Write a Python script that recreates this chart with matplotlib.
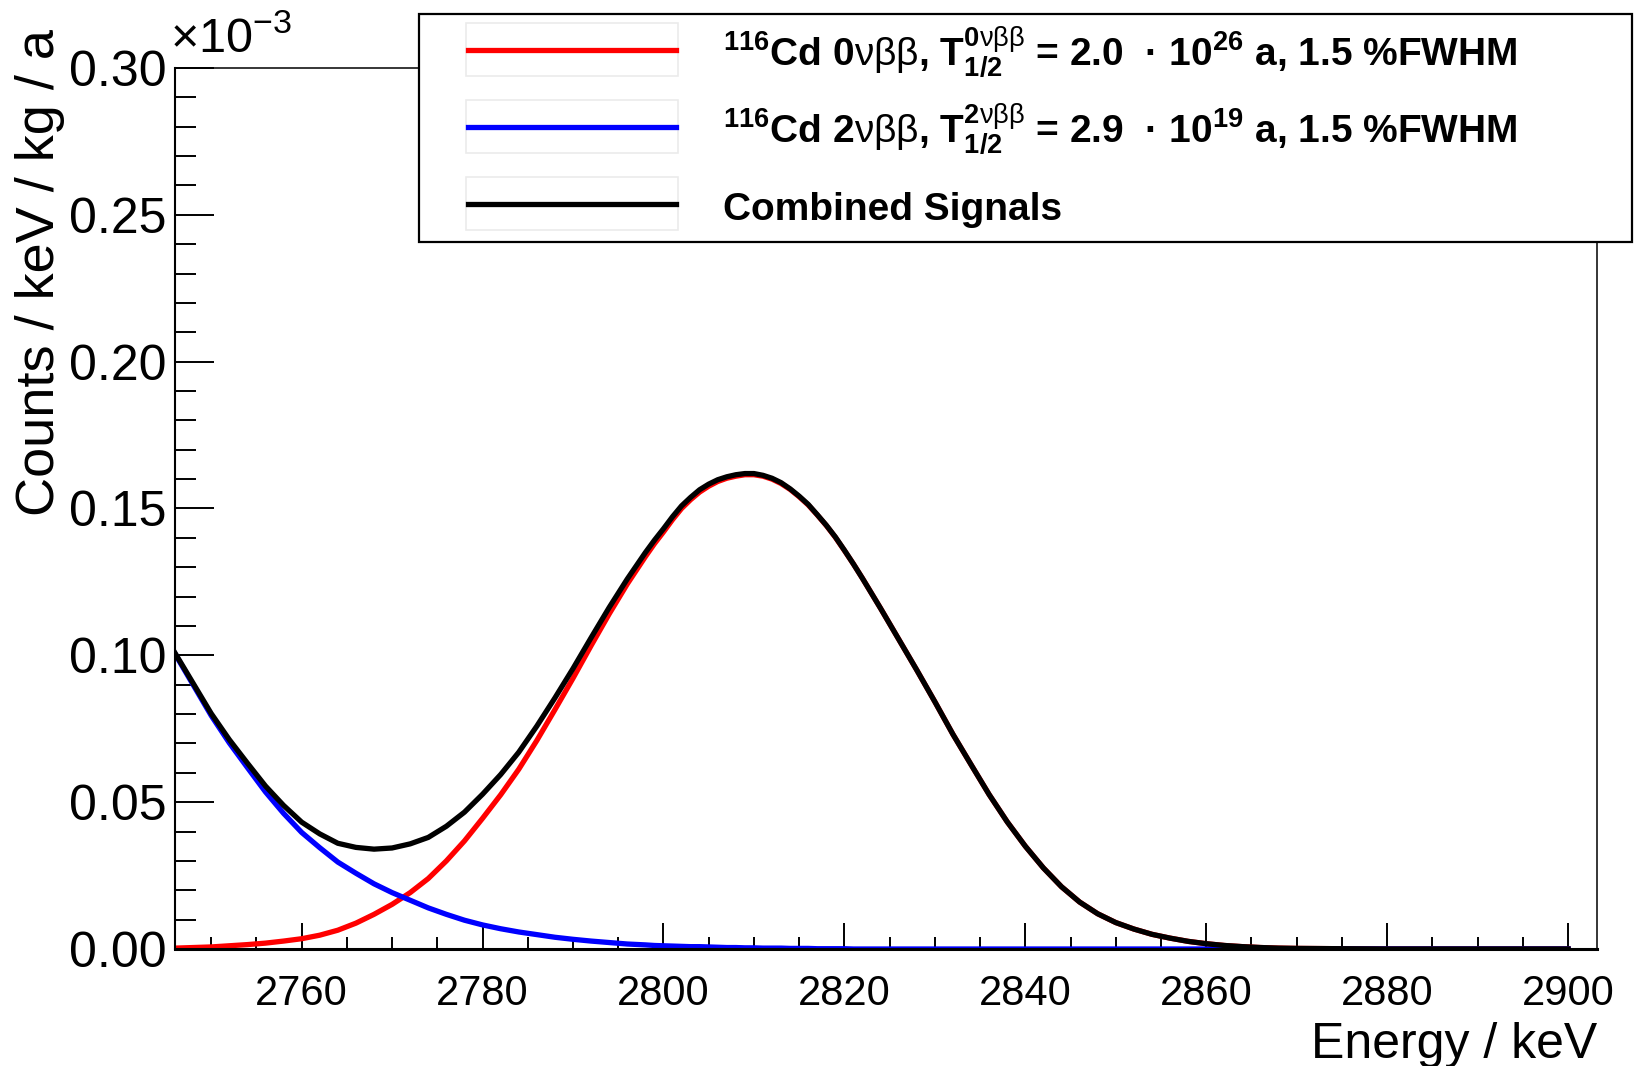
import matplotlib
matplotlib.use('Agg')
import matplotlib.pyplot as plt
from matplotlib.ticker import MultipleLocator, FormatStrFormatter
from matplotlib.patches import Rectangle
from matplotlib.lines import Line2D
import numpy as np

# energy grid (keV) and spectra in 10^-3 counts / keV / kg / a
energy = [2746, 2748, 2750, 2752, 2754, 2756, 2758, 2760, 2762, 2764,
          2766, 2768, 2770, 2772, 2774, 2776, 2778, 2780, 2782, 2784,
          2786, 2788, 2790, 2792, 2794, 2796, 2798, 2799, 2800, 2801,
          2802, 2803, 2804, 2805, 2806, 2807, 2808, 2809, 2810, 2811,
          2812, 2813, 2814, 2815, 2816, 2817, 2818, 2819, 2820, 2821,
          2822, 2824, 2826, 2828, 2830, 2832, 2834, 2836, 2838, 2840,
          2842, 2844, 2846, 2848, 2850, 2852, 2854, 2856, 2858, 2860,
          2862, 2864, 2866, 2868, 2870, 2875, 2880, 2885, 2890, 2895,
          2900]

# 0vbb peak
sig_0nbb = [0.0003, 0.0005, 0.0007, 0.0011, 0.0015, 0.0020, 0.0027, 0.0035, 0.0047, 0.0064,
            0.0088, 0.0118, 0.0152, 0.0192, 0.0240, 0.0300, 0.0368, 0.0445, 0.0525, 0.0612,
            0.0710, 0.0815, 0.0922, 0.1033, 0.1141, 0.1243, 0.1336, 0.1380, 0.1420, 0.1462,
            0.1500, 0.1530, 0.1556, 0.1576, 0.1592, 0.1603, 0.1610, 0.1615, 0.1615, 0.1610,
            0.1600, 0.1585, 0.1565, 0.1540, 0.1512, 0.1478, 0.1442, 0.1402, 0.1357, 0.1311,
            0.1262, 0.1160, 0.1055, 0.0950, 0.0842, 0.0731, 0.0628, 0.0526, 0.0433, 0.0350,
            0.0276, 0.0212, 0.0160, 0.0120, 0.0090, 0.0068, 0.0050, 0.0037, 0.0026, 0.0018,
            0.0012, 0.0008, 0.0005, 0.0003, 0.0002, 0.0001, 0.0, 0.0, 0.0, 0.0,
            0.0]

# 2vbb tail
sig_2nbb = [0.1005, 0.0900, 0.0795, 0.0702, 0.0618, 0.0535, 0.0462, 0.0397, 0.0345, 0.0296,
            0.0258, 0.0222, 0.0192, 0.0166, 0.0140, 0.0118, 0.0098, 0.0082, 0.0069, 0.0058,
            0.0049, 0.0040, 0.0033, 0.0027, 0.0022, 0.0017, 0.0014, 0.0012, 0.0011, 0.0010,
            0.0009, 0.0008, 0.0008, 0.0007, 0.0006, 0.0005, 0.0005, 0.0004, 0.0004, 0.0003,
            0.0003, 0.0003, 0.0002, 0.0002, 0.0002, 0.0001, 0.0001, 0.0001, 0.0001, 0.0,
            0.0, 0.0, 0.0, 0.0, 0.0, 0.0, 0.0, 0.0, 0.0, 0.0,
            0.0, 0.0, 0.0, 0.0, 0.0, 0.0, 0.0, 0.0, 0.0, 0.0,
            0.0, 0.0, 0.0, 0.0, 0.0, 0.0, 0.0, 0.0, 0.0, 0.0,
            0.0]

labels = ['$^{116}$Cd 0$\\mathrm{\u03bd\u03b2\u03b2}$, T$^{0\\mathrm{\u03bd\u03b2\u03b2}}_{1/2}$ = 2.0  \u00b7 10$^{26}$ a, 1.5 %FWHM',
          '$^{116}$Cd 2$\\mathrm{\u03bd\u03b2\u03b2}$, T$^{2\\mathrm{\u03bd\u03b2\u03b2}}_{1/2}$ = 2.9  \u00b7 10$^{19}$ a, 1.5 %FWHM',
          'Combined Signals']
colors = ['red', 'blue', 'black']

plt.rcParams['font.family'] = 'Liberation Sans'
plt.rcParams['mathtext.fontset'] = 'custom'
plt.rcParams['mathtext.rm'] = 'Liberation Sans'
plt.rcParams['mathtext.default'] = 'regular'

W, H = 1635, 1066
fig = plt.figure(figsize=(W / 100, H / 100), dpi=100)
ax = fig.add_axes([175 / W, 1 - 949 / H, (1597 - 175) / W, (949 - 68) / H])

combined = np.array(sig_0nbb) + np.array(sig_2nbb)
series = [sig_0nbb, sig_2nbb, combined]
for y, c in zip(series, colors):
    ax.plot(energy, y, color=c, lw=3.8, solid_joinstyle='round')

ax.set_xlim(2746, 2903.2)
ax.set_ylim(0, 0.30)
ax.xaxis.set_major_locator(MultipleLocator(20))
ax.xaxis.set_minor_locator(MultipleLocator(5))
ax.yaxis.set_major_locator(MultipleLocator(0.05))
ax.yaxis.set_minor_locator(MultipleLocator(0.01))
ax.yaxis.set_major_formatter(FormatStrFormatter('%.2f'))
ax.tick_params(which='both', direction='in', top=False, right=False, width=1.4)
ax.tick_params(axis='x', which='major', length=18.7, labelsize=30, pad=18)
ax.tick_params(axis='x', which='minor', length=8.6)
ax.tick_params(axis='y', which='major', length=27.8, labelsize=36, pad=6)
ax.tick_params(axis='y', which='minor', length=15)
ax.spines['bottom'].set_linewidth(2.2)
ax.spines['left'].set_linewidth(1.5)
ax.spines['top'].set_linewidth(1.1)
ax.spines['right'].set_linewidth(1.1)

fig.text(1597 / W, 1 - 1022 / H, 'Energy / keV', ha='right', va='top', fontsize=36)
fig.text(40 / W, 1 - 29 / H, 'Counts / keV / kg / a', rotation=90,
         ha='center', va='top', fontsize=39)
fig.text(170 / W, 1 - 52 / H, '\u00d710$^{-3}$', ha='left', va='baseline', fontsize=35)

# legend box, drawn over the frame
fig.add_artist(Rectangle((419 / W, 1 - 242 / H), 1213 / W, 228 / H,
                         transform=fig.transFigure, facecolor='white',
                         edgecolor='black', lw=1.6, zorder=5))
for i, (lab, c) in enumerate(zip(labels, colors)):
    yc = 50 + 77 * i
    fig.add_artist(Rectangle((466 / W, 1 - (yc + 26) / H), 212 / W, 53 / H,
                             transform=fig.transFigure, facecolor='none',
                             edgecolor='#ebebeb', lw=1.2, zorder=6))
    fig.add_artist(Line2D([468 / W, 676 / W], [1 - yc / H] * 2,
                          transform=fig.transFigure, color=c, lw=3.8, zorder=7))
    fig.text(723 / W, 1 - (yc + 16) / H, lab, fontsize=28, fontweight='bold',
             va='baseline', ha='left', zorder=7)

fig.savefig('out.png', dpi=100)
